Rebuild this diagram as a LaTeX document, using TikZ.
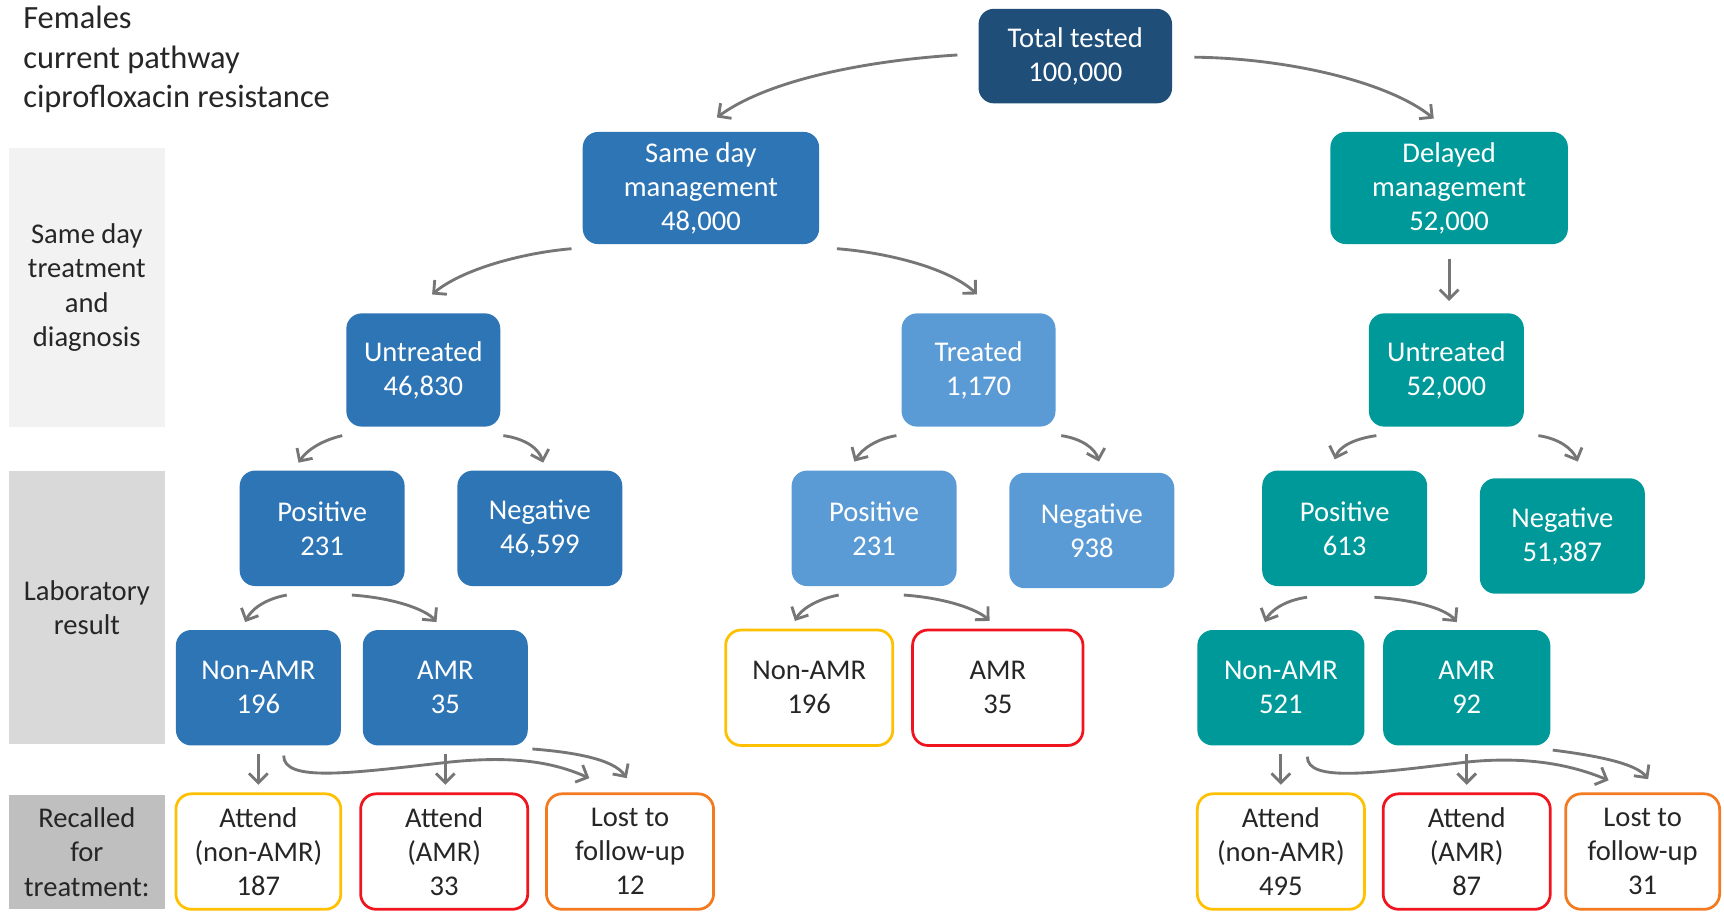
\documentclass[tikz,border=0pt]{standalone}
\usepackage{fontspec}
\setmainfont{Carlito}
\usetikzlibrary{arrows.meta,calc}
\definecolor{navy}{HTML}{1F4E79}
\definecolor{midblue}{HTML}{2E75B6}
\definecolor{lightblue}{HTML}{5B9BD5}
\definecolor{tealb}{HTML}{009999}
\definecolor{amber}{HTML}{FFC000}
\definecolor{redb}{HTML}{F0141E}
\definecolor{orangeb}{HTML}{F47A20}
\definecolor{arrgray}{HTML}{767676}
\definecolor{txt}{HTML}{262626}
\definecolor{gA}{HTML}{F2F2F2}
\definecolor{gB}{HTML}{D9D9D9}
\definecolor{gC}{HTML}{BFBFBF}
\tikzset{
  base/.style={rounded corners=14pt, align=center, inner sep=0pt, font=\fontsize{26}{31}\selectfont},
  filled/.style={base, fill=#1, text=white},
  outl/.style={base, fill=white, draw=#1, line width=2.5pt, text=txt},
  lab/.style={fill=#1, align=center, inner sep=0pt, text=txt, font=\fontsize{26}{31}\selectfont},
  arr/.style={draw=arrgray, line width=2.6pt, -{Straight Barb[length=8.5pt,width=17pt]}},
  sz/.style 2 args={minimum width=#1pt, minimum height=#2pt},
}
\begin{document}
\begin{tikzpicture}[x=1pt,y=-1pt]
\useasboundingbox (0,0) rectangle (1568,829);
% title
\node[anchor=west, align=left, inner sep=0pt, text=txt, font=\fontsize{29.5}{36}\selectfont] (title) at (21,54) {Females\\current pathway\\ciprofloxacin resistance};
% side labels
\node[lab=gA, sz={142}{253}] (labA) at (79,261.5) {Same day\\treatment\\and\\diagnosis};
\node[lab=gB, sz={142}{249}] (labB) at (79,552.5) {Laboratory\\result};
\node[lab=gC, sz={142}{104}] (labC) at (79,775) {Recalled\\for\\treatment:};
% level 0-1
\node[filled=navy, sz={176}{86}] (total) at (978,51) {Total tested\\100,000};
\node[filled=midblue, sz={215}{102}] (sdm) at (637.5,171) {Same day\\management\\48,000};
\node[filled=tealb, sz={216}{102}] (dm) at (1318,171) {Delayed\\management\\52,000};
% level 2
\node[filled=midblue, sz={140}{103}] (untL) at (385,336.5) {Untreated\\46,830};
\node[filled=lightblue, sz={140}{103}] (trt) at (890,336.5) {Treated\\1,170};
\node[filled=tealb, sz={141}{103}] (untR) at (1315.5,336.5) {Untreated\\52,000};
% level 3
\node[filled=midblue, sz={150}{105}] (posL) at (293,480.5) {Positive\\231};
\node[filled=midblue, sz={150}{105}] (negL) at (491,480.5) {Negative\\46,599};
\node[filled=lightblue, sz={150}{105}] (posM) at (795,480.5) {Positive\\231};
\node[filled=lightblue, sz={150}{105}] (negM) at (993,482.5) {Negative\\938};
\node[filled=tealb, sz={150}{105}] (posR) at (1223,480.5) {Positive\\613};
\node[filled=tealb, sz={150}{105}] (negR) at (1421,487.5) {Negative\\51,387};
% level 4
\node[filled=midblue, sz={150}{105}] (nonL) at (235,625.5) {Non-AMR\\196};
\node[filled=midblue, sz={150}{105}] (amrL) at (405,625.5) {AMR\\35};
\node[outl=amber, sz={152}{105}] (nonM) at (736,625.5) {Non-AMR\\196};
\node[outl=redb, sz={155}{105}] (amrM) at (907.5,625.5) {AMR\\35};
\node[filled=tealb, sz={152}{105}] (nonR) at (1165,625.5) {Non-AMR\\521};
\node[filled=tealb, sz={152}{105}] (amrR) at (1334,625.5) {AMR\\92};
% level 5
\node[outl=amber, sz={150}{105}] (attL) at (235,774.5) {Attend\\(non-AMR)\\187};
\node[outl=redb, sz={152}{105}] (attAL) at (404,774.5) {Attend\\(AMR)\\33};
\node[outl=orangeb, sz={152}{105}] (lostL) at (573,774.5) {Lost to\\follow-up\\12};
\node[outl=amber, sz={152}{105}] (attR) at (1165,774.5) {Attend\\(non-AMR)\\495};
\node[outl=redb, sz={152}{105}] (attAR) at (1334,774.5) {Attend\\(AMR)\\87};
\node[outl=orangeb, sz={140}{105}] (lostR) at (1494,774.5) {Lost to\\follow-up\\31};
% arrows
\draw[arr] ($(total.west)+(-19,-1)$) .. controls (790,55) and (700,72) .. ($(sdm.north)+(14.5,-13)$);
\draw[arr] ($(total.east)+(20,1)$) .. controls (1170,53) and (1262,74) .. ($(dm.north)+(-14,-12)$);
\draw[arr] ($(sdm.south west)+(-10,4)$) .. controls (475,230) and (420,245) .. ($(untL.north)+(8,-17)$);
\draw[arr] ($(sdm.south east)+(16,4)$) .. controls (810,230) and (865,245) .. ($(trt.north)+(-1.4,-17)$);
\draw[arr] ($(dm.south)+(0,13)$) -- ($(dm.south|-untR.north)+(0,-11)$);
\draw[arr] ($(untL.south west)+(-3.5,8)$) .. controls (295,400) and (280,408) .. ($(posL.north)+(-21.5,-7)$);
\draw[arr] ($(untL.south east)+(2.6,8)$) .. controls (478,399) and (490,408) .. ($(negL.north)+(3,-7)$);
\draw[arr] ($(trt.south west)+(-4.5,8)$) .. controls (798,399) and (784,408) .. ($(posM.north)+(-18,-8)$);
\draw[arr] ($(trt.south east)+(5,8)$) .. controls (984,399) and (996,408) .. ($(negM.north)+(6.5,-10)$);
\draw[arr] ($(untR.south west)+(7,8)$) .. controls (1232,399) and (1218,406) .. ($(posR.north)+(-9,-10)$);
\draw[arr] ($(untR.south east)+(13,8)$) .. controls (1418,399) and (1430,408) .. ($(negR.north)+(14,-15)$);
\draw[arr] ($(posL.south west)+(43,8)$) .. controls (240,545) and (228,555) .. ($(nonL.north)+(-12,-7)$);
\draw[arr] ($(posL.south)+(27,8)$) .. controls (360,544) and (388,555) .. ($(amrL.north)+(-8,-7)$);
\draw[arr] ($(posM.south west)+(43,8)$) .. controls (742,545) and (728,555) .. ($(nonM.north)+(-13,-7)$);
\draw[arr] ($(posM.south)+(27,8)$) .. controls (862,544) and (890,555) .. ($(amrM.north)+(-7.5,-7)$);
\draw[arr] ($(posR.south west)+(41,10)$) .. controls (1168,546) and (1155,556) .. ($(nonR.north)+(-14.5,-7)$);
\draw[arr] ($(posR.south)+(27,10)$) .. controls (1292,546) and (1316,555) .. ($(amrR.north)+(-9,-7)$);
\draw[arr] ($(nonL.south)+(0,8)$) -- ($(nonL.south|-attL.north)+(0,-7)$);
\draw[arr] ($(amrL.south)+(0,8)$) -- ($(amrL.south|-attAL.north)+(0,-7)$);
\draw[arr] ($(nonL.south)+(23,9)$) .. controls (258,712) and (320,703) .. (410,693) .. controls (470,687) and (505,694) .. ($(lostL.north)+(-37,-13)$);
\draw[arr] ($(amrL.south east)+(4,3)$) .. controls (520,684) and (558,690) .. ($(lostL.north)+(-3,-13)$);
\draw[arr] ($(nonR.south)+(0,8)$) -- ($(nonR.south|-attR.north)+(0,-7)$);
\draw[arr] ($(amrR.south)+(0,8)$) -- ($(amrR.south|-attAR.north)+(0,-7)$);
\draw[arr] ($(nonR.south)+(24,10)$) .. controls (1189,712) and (1250,703) .. (1335,693) .. controls (1395,687) and (1435,698) .. ($(lostR.north)+(-31,-11)$);
\draw[arr] ($(amrR.south east)+(2,4)$) .. controls (1450,687) and (1488,694) .. ($(lostR.north)+(5,-12)$);
\end{tikzpicture}
\end{document}
